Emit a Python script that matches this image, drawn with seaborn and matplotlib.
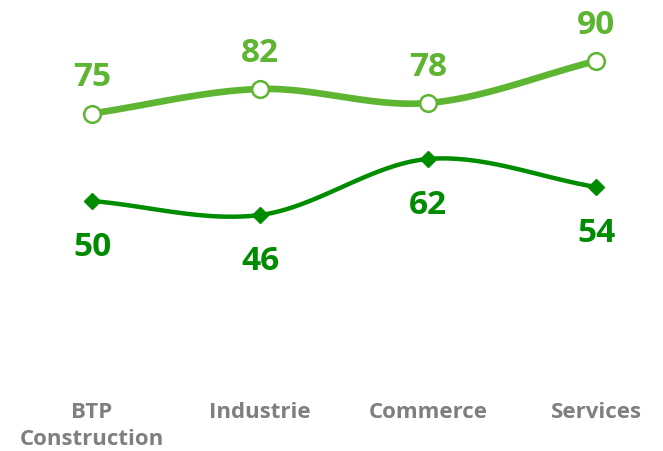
import numpy as np
import matplotlib
matplotlib.use("Agg")
import matplotlib.pyplot as plt
import seaborn as sns

# données
categories = ["BTP\nConstruction", "Industrie", "Commerce", "Services"]
serie_haute = [75, 82, 78, 90]
serie_basse = [50, 46, 62, 54]

vert_clair = "#5db532"
vert_fonce = "#008c00"
gris = "#7f7f7f"


# courbe lissée (spline de Catmull-Rom) à partir des points
def lisser(x, y, n=40):
    x = np.asarray(x, float)
    y = np.asarray(y, float)
    px = np.concatenate([[2 * x[0] - x[1]], x, [2 * x[-1] - x[-2]]])
    py = np.concatenate([[2 * y[0] - y[1]], y, [2 * y[-1] - y[-2]]])
    xs, ys = [], []
    t = np.linspace(0, 1, n)
    for i in range(1, len(px) - 2):
        for arr_p, out in ((px, xs), (py, ys)):
            p0, p1, p2, p3 = arr_p[i - 1:i + 3]
            seg = 0.5 * ((2 * p1) + (-p0 + p2) * t
                         + (2 * p0 - 5 * p1 + 4 * p2 - p3) * t ** 2
                         + (-p0 + 3 * p1 - 3 * p2 + p3) * t ** 3)
            out.extend(seg)
    return np.array(xs), np.array(ys)


sns.set_style("white")
plt.rcParams['font.family'] = ['Open Sans', 'DejaVu Sans']

fig = plt.figure(figsize=(6.63, 4.51), dpi=100)
ax = fig.add_axes([0, 1 - 376 / 451, 1, 350 / 451])

x = np.arange(len(categories))

xs, ys = lisser(x, serie_basse)
sns.lineplot(x=xs, y=ys, ax=ax, color=vert_fonce, lw=3.2, sort=False)
ax.plot(x, serie_basse, ls="none", marker="D", ms=8, color=vert_fonce, zorder=4)

xs, ys = lisser(x, serie_haute)
sns.lineplot(x=xs, y=ys, ax=ax, color=vert_clair, lw=4.8, sort=False)
ax.plot(x, serie_haute, ls="none", marker="o", ms=12, mfc="white",
        mec=vert_clair, mew=1.8, zorder=4)

for i, v in enumerate(serie_haute):
    ax.annotate(str(v), (i, v), xytext=(0, 19.5), textcoords="offset points",
                ha="center", va="baseline", fontsize=24, fontweight="bold",
                color=vert_clair)
for i, v in enumerate(serie_basse):
    ax.annotate(str(v), (i, v), xytext=(0, -39.5), textcoords="offset points",
                ha="center", va="baseline", fontsize=24, fontweight="bold",
                color=vert_fonce)

ax.set_xlim(-92 / 168, 3 + 67 / 168)
ax.set_ylim(0, 100)
ax.set_xticks(x)
ax.set_xticklabels(categories, fontsize=16, fontweight="bold", color=gris,
                   linespacing=1.35)
ax.tick_params(axis="x", length=0, pad=19)
ax.set_yticks([])
sns.despine(ax=ax, left=True, bottom=True)

fig.savefig("out.png", dpi=100)
